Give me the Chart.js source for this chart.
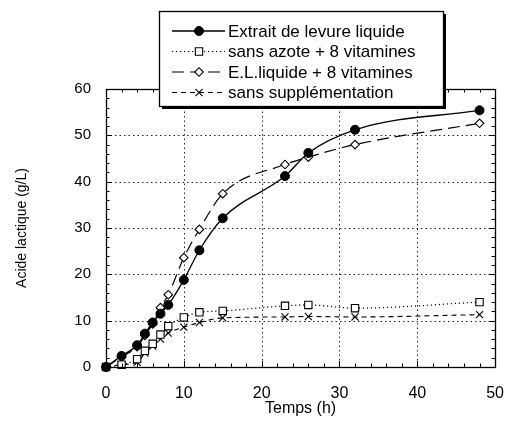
<!DOCTYPE html>
<html>
<head>
<meta charset="utf-8">
<script src="https://cdn.jsdelivr.net/npm/chart.js@4.4.7/dist/chart.umd.min.js"></script>
<style>
  html, body { margin: 0; padding: 0; background: #fff; }
  #wrap { width: 521px; height: 421px; position: relative; }
</style>
</head>
<body>
<div id="wrap"><canvas id="chart"></canvas></div>
<script>
// data
const temps = [0, 2, 4, 5, 6, 7, 8, 10, 12, 15, 23, 26, 32, 48];
const extraitLevure = [0, 2.4, 4.7, 7.2, 9.6, 11.5, 13.4, 18.8, 25.2, 32.1, 41.2, 46.2, 51.2, 55.4];
const sansAzote = [0, 0.5, 1.7, 3.5, 5.0, 7.0, 8.8, 10.7, 11.8, 12.1, 13.2, 13.4, 12.7, 14.0];
const elLiquide = [0, 2.2, 4.4, 6.8, 9.3, 12.8, 15.6, 23.6, 29.7, 37.4, 43.7, 45.3, 48.0, 52.6];
const sansSupplementation = [0, 0.5, 1.0, 3.0, 4.5, 6.0, 7.3, 8.6, 9.6, 10.6, 10.8, 10.9, 10.8, 11.3];

const seriesLabels = [
    'Extrait de levure liquide',
    'sans azote + 8 vitamines',
    'E.L.liquide + 8 vitamines',
    'sans supplémentation'
];
const xTicks = [0, 10, 20, 30, 40, 50];
const yTicks = [0, 10, 20, 30, 40, 50, 60];
const xMinorStep = 2;
const yMinorStep = 2;

const FONT = "'Liberation Sans', Arial, Helvetica, sans-serif";

const toPoints = (vals) => temps.map((t, i) => ({ x: t, y: vals[i] }));

const datasets = [
    {
        label: seriesLabels[0],
        data: toPoints(extraitLevure),
        borderColor: '#000',
        borderWidth: 1.3,
        borderDash: [],
        pointStyle: 'circle',
        pointRadius: 4.5,
        pointBackgroundColor: '#000',
        pointBorderColor: '#000',
        pointBorderWidth: 1
    },
    {
        label: seriesLabels[1],
        data: toPoints(sansAzote),
        borderColor: '#000',
        borderWidth: 1.2,
        borderDash: [1.2, 2.8],
        pointStyle: 'rect',
        pointRadius: 5.2,
        pointBackgroundColor: '#fff',
        pointBorderColor: '#000',
        pointBorderWidth: 1.1
    },
    {
        label: seriesLabels[2],
        data: toPoints(elLiquide),
        borderColor: '#000',
        borderWidth: 1.2,
        borderDash: [12, 6],
        pointStyle: 'rectRot',
        pointRadius: 4.3,
        pointBackgroundColor: '#fff',
        pointBorderColor: '#000',
        pointBorderWidth: 1.1
    },
    {
        label: seriesLabels[3],
        data: toPoints(sansSupplementation),
        borderColor: '#000',
        borderWidth: 1.1,
        borderDash: [5, 4],
        pointStyle: 'crossRot',
        pointRadius: 5,
        pointBackgroundColor: '#fff',
        pointBorderColor: '#000',
        pointBorderWidth: 1.1
    }
];

// marker used in the hand-drawn legend box
function drawMarker(ctx, ds, x, y) {
    const r = ds.pointRadius;
    ctx.save();
    ctx.setLineDash([]);
    ctx.lineWidth = ds.pointBorderWidth;
    ctx.strokeStyle = ds.pointBorderColor;
    ctx.fillStyle = ds.pointBackgroundColor;
    ctx.beginPath();
    if (ds.pointStyle === 'circle') {
        ctx.arc(x, y, r, 0, Math.PI * 2);
        ctx.fill(); ctx.stroke();
    } else if (ds.pointStyle === 'rect') {
        const s = r * Math.SQRT1_2;
        ctx.rect(x - s, y - s, 2 * s, 2 * s);
        ctx.fill(); ctx.stroke();
    } else if (ds.pointStyle === 'rectRot') {
        ctx.moveTo(x, y - r); ctx.lineTo(x + r, y); ctx.lineTo(x, y + r); ctx.lineTo(x - r, y);
        ctx.closePath();
        ctx.fill(); ctx.stroke();
    } else {
        const s = r * Math.SQRT1_2;
        ctx.moveTo(x - s, y - s); ctx.lineTo(x + s, y + s);
        ctx.moveTo(x + s, y - s); ctx.lineTo(x - s, y + s);
        ctx.stroke();
    }
    ctx.restore();
}

function seg(ctx, x1, y1, x2, y2) {
    ctx.beginPath();
    ctx.moveTo(x1, y1);
    ctx.lineTo(x2, y2);
    ctx.stroke();
}

const framePlugin = {
    id: 'frame',
    beforeDatasetsDraw(chart) {
        const { ctx, chartArea: a, scales: { x, y } } = chart;
        ctx.save();
        ctx.strokeStyle = '#222';
        ctx.lineWidth = 1;
        ctx.setLineDash([1.5, 3]);
        xTicks.slice(1, -1).forEach(v => {
            const px = Math.round(x.getPixelForValue(v)) + 0.5;
            seg(ctx, px, a.top, px, a.bottom);
        });
        yTicks.slice(1, -1).forEach(v => {
            const py = Math.round(y.getPixelForValue(v)) + 0.5;
            seg(ctx, a.left, py, a.right, py);
        });
        ctx.restore();
    },
    afterDatasetsDraw(chart) {
        const { ctx, chartArea: a, scales: { x, y } } = chart;
        ctx.save();
        ctx.strokeStyle = '#000';
        ctx.lineWidth = 1;
        ctx.setLineDash([]);
        // minor + major ticks, inward on all four sides
        for (let v = 0; v <= 50; v += xMinorStep) {
            const px = Math.round(x.getPixelForValue(v)) + 0.5;
            const len = xTicks.includes(v) ? 6 : 3.5;
            seg(ctx, px, a.bottom, px, a.bottom - len);
            seg(ctx, px, a.top, px, a.top + len);
        }
        for (let v = 0; v <= 60; v += yMinorStep) {
            const py = Math.round(y.getPixelForValue(v)) + 0.5;
            const len = yTicks.includes(v) ? 6 : 3.5;
            seg(ctx, a.left, py, a.left + len, py);
            seg(ctx, a.right, py, a.right - len, py);
        }
        ctx.lineWidth = 1.3;
        ctx.strokeRect(Math.round(a.left) + 0.5, Math.round(a.top) + 0.5,
            Math.round(a.right - a.left), Math.round(a.bottom - a.top));
        ctx.restore();
    }
};

const legendBoxPlugin = {
    id: 'legendBox',
    afterDraw(chart) {
        const { ctx } = chart;
        const bx = 159, by = 11, bw = 284, bh = 95;
        ctx.save();
        // shadow
        ctx.fillStyle = '#000';
        ctx.fillRect(bx + 3, by + 3, bw, bh);
        ctx.fillStyle = '#fff';
        ctx.fillRect(bx, by, bw, bh);
        ctx.strokeStyle = '#000';
        ctx.lineWidth = 1.3;
        ctx.strokeRect(bx + 0.5, by + 0.5, bw, bh);

        ctx.font = '17px ' + FONT;
        ctx.textBaseline = 'middle';
        ctx.textAlign = 'left';
        ctx.fillStyle = '#000';
        datasets.forEach((ds, i) => {
            const ry = by + 20 + i * 20.5;
            ctx.save();
            ctx.strokeStyle = ds.borderColor;
            ctx.lineWidth = ds.borderWidth;
            ctx.setLineDash(ds.borderDash);
            seg(ctx, 172, ry, 225, ry);
            ctx.restore();
            drawMarker(ctx, ds, 199, ry);
            ctx.fillText(ds.label, 228, ry + 1);
        });
        ctx.restore();
    }
};

new Chart(document.getElementById('chart'), {
    type: 'line',
    data: { datasets },
    options: {
        responsive: true,
        maintainAspectRatio: false,
        animation: false,
        layout: { padding: { top: 89, right: 14, bottom: 0, left: 0 } },
        elements: { line: { tension: 0.35, cubicInterpolationMode: 'monotone' } },
        datasets: { line: { clip: false } },
        plugins: {
            legend: { display: false },
            tooltip: { enabled: false }
        },
        scales: {
            x: {
                type: 'linear',
                min: 0,
                max: 50,
                grid: { display: false, drawTicks: false },
                border: { display: false },
                ticks: {
                    stepSize: 10,
                    padding: 17,
                    color: '#000',
                    font: { family: FONT, size: 16 }
                },
                title: {
                    display: true,
                    text: 'Temps (h)',
                    color: '#000',
                    font: { family: FONT, size: 16 },
                    padding: { top: 0, bottom: 3 }
                },
                afterFit(scale) { scale.height = 54; }
            },
            y: {
                type: 'linear',
                min: 0,
                max: 60,
                grid: { display: false, drawTicks: false },
                border: { display: false },
                ticks: {
                    stepSize: 10,
                    padding: 15,
                    color: '#000',
                    font: { family: FONT, size: 15 }
                },
                title: {
                    display: true,
                    text: 'Acide lactique (g/L)',
                    color: '#000',
                    font: { family: FONT, size: 14 },
                    padding: { top: 14, bottom: 0 }
                },
                afterFit(scale) { scale.width = 106; }
            }
        }
    },
    plugins: [framePlugin, legendBoxPlugin]
});
</script>
</body>
</html>
